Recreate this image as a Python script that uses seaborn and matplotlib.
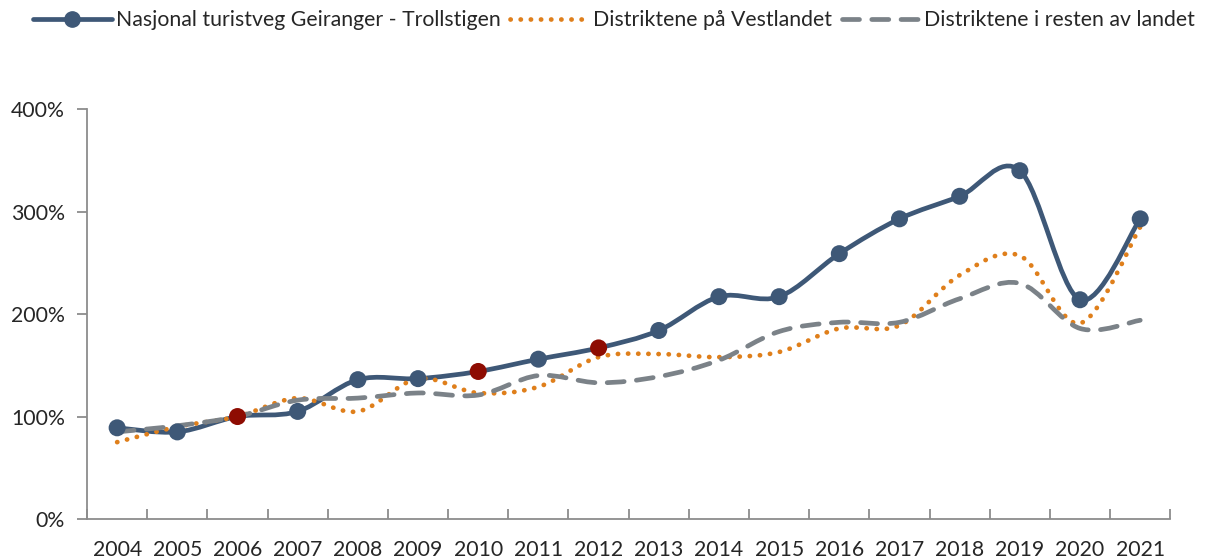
import numpy as np
import pandas as pd
import matplotlib
matplotlib.use("Agg")
import matplotlib.pyplot as plt
import seaborn as sns
from matplotlib.path import Path
from matplotlib.patches import PathPatch
from matplotlib.lines import Line2D

years = [str(y) for y in range(2004, 2022)]
geiranger = [89, 85, 100, 105, 136, 137, 144, 156, 167, 184, 217, 217, 259, 293, 315, 340, 214, 293]
vestlandet = [75, 90, 100, 118, 105, 137, 123, 129, 158, 161, 158, 163, 186, 189, 238, 257, 191, 285]
resten = [85, 91, 100, 116, 118, 123, 121, 140, 133, 139, 155, 183, 192, 192, 215, 230, 186, 194]
highlight_years = ["2006", "2010", "2012"]
yticks = [0, 100, 200, 300, 400]

names = ["Nasjonal turistveg Geiranger - Trollstigen", "Distriktene på Vestlandet",
         "Distriktene i resten av landet"]
c_blue = "#3E5877"
c_orange = "#DF7F1B"
c_grey = "#7B8288"
c_red = "#8E0C02"

sns.set_style("white")
plt.rcParams["font.family"] = ["Lato", "DejaVu Sans"]

FS = 15.3

fig = plt.figure(figsize=(12.09, 5.59), dpi=100)
ax = fig.add_axes([0.072, 0.0716, 0.896, 0.733])

x = np.arange(len(years))


def smooth_path(xs, ys):
    # Excel-style smoothed line: cubic Bezier through data points
    pts = np.column_stack([xs, ys]).astype(float)
    n = len(pts)
    verts = [pts[0]]
    codes = [Path.MOVETO]
    for i in range(n - 1):
        p0 = pts[i - 1] if i > 0 else pts[i]
        p1 = pts[i]
        p2 = pts[i + 1]
        p3 = pts[i + 2] if i + 2 < n else pts[i + 1]
        c1 = p1 + (p2 - p0) / 6.0
        c2 = p2 - (p3 - p1) / 6.0
        verts += [c1, c2, p2]
        codes += [Path.CURVE4] * 3
    return Path(verts, codes)


ax.add_patch(PathPatch(smooth_path(x, geiranger), fill=False, edgecolor=c_blue,
                       lw=3.4, capstyle="round", joinstyle="round", zorder=3))
ax.add_patch(PathPatch(smooth_path(x, vestlandet), fill=False, edgecolor=c_orange,
                       lw=3.4, linestyle=(0, (0.05, 2.1)), capstyle="round", zorder=4))
ax.add_patch(PathPatch(smooth_path(x, resten), fill=False, edgecolor=c_grey,
                       lw=3.4, linestyle=(0, (3.6, 2.6)), capstyle="round", zorder=5))

df = pd.DataFrame({"x": x, "y": geiranger, "year": years})
df["hl"] = df["year"].isin(highlight_years).map({True: "r", False: "b"})
sns.scatterplot(data=df, x="x", y="y", hue="hl", palette={"b": c_blue, "r": c_red},
                s=150, edgecolor="none", legend=False, ax=ax, zorder=6)

ax.set_xlim(-0.5, len(years) - 0.5)
ax.set_ylim(0, 400)
ax.set_xlabel("")
ax.set_ylabel("")

ax.set_yticks(yticks)
ax.set_yticklabels([f"{v}%" for v in yticks])
ax.set_xticks(np.arange(-0.5, len(years), 1.0))
ax.set_xticklabels([])
ax.set_xticks(x, minor=True)
ax.set_xticklabels(years, minor=True)

for s in ["top", "right"]:
    ax.spines[s].set_visible(False)
for s in ["left", "bottom"]:
    ax.spines[s].set_color("#8C8C8C")
    ax.spines[s].set_linewidth(1.3)

ax.tick_params(axis="y", which="major", direction="out", length=7, width=1.3,
               color="#8C8C8C", labelsize=FS, pad=9, left=True)
ax.tick_params(axis="x", which="major", direction="in", length=7, width=1.3,
               color="#8C8C8C", bottom=True)
ax.tick_params(axis="x", which="minor", length=0, labelsize=FS, pad=15)
ax.grid(False)

handles = [
    Line2D([], [], color=c_blue, lw=3.4, marker="o", markersize=11, solid_capstyle="round"),
    Line2D([], [], color=c_orange, lw=3.4, linestyle=(0, (0.05, 2.1)), dash_capstyle="round"),
    Line2D([], [], color=c_grey, lw=3.4, linestyle=(0, (3.6, 2.6)), dash_capstyle="round"),
]
fig.legend(handles, names, loc="upper center", bbox_to_anchor=(0.508, 1.016), ncol=3,
           frameon=False, fontsize=FS, handlelength=3.7, handletextpad=0.2,
           columnspacing=0.45)

fig.savefig("out.png", dpi=100)
